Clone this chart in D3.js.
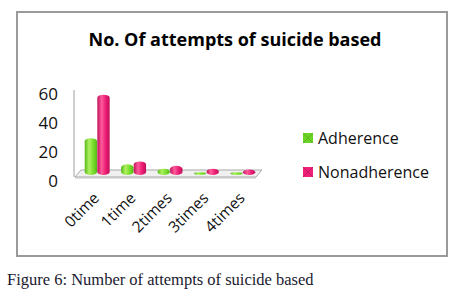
<!DOCTYPE html>
<html>
<head>
<meta charset="utf-8" />
<title>No. Of attempts of suicide based</title>
<script src="https://cdn.jsdelivr.net/npm/d3@7"></script>
<style>
  body { margin: 0; background: #fff; }
  svg { display: block; }
  .tick text { font-family: "Open Sans", "DejaVu Sans", sans-serif; }
</style>
</head>
<body>
<div id="chart"></div>
<script>
const categories = ["0time", "1time", "2times", "3times", "4times"];
const seriesNames = ["Adherence", "Nonadherence"];
const adherence = [24, 6, 3, 0.6, 0.6];
const nonadherence = [54, 8, 5, 3, 2.5];
const yTicks = [0, 20, 40, 60];

const W = 457, H = 303;
const svg = d3.select("#chart").append("svg")
  .attr("width", W).attr("height", H);

const defs = svg.append("defs");
function cyl(id, dark, mid, light) {
  const g = defs.append("linearGradient").attr("id", id)
    .attr("x1", "0%").attr("x2", "100%").attr("y1", "0%").attr("y2", "0%");
  g.append("stop").attr("offset", "0%").attr("stop-color", dark);
  g.append("stop").attr("offset", "35%").attr("stop-color", light);
  g.append("stop").attr("offset", "70%").attr("stop-color", mid);
  g.append("stop").attr("offset", "100%").attr("stop-color", dark);
}
cyl("gGreen", "#55b818", "#77dd2a", "#aef060");
cyl("gPink", "#c0105a", "#ea1a72", "#ff5c9c");
const colors = ["url(#gGreen)", "url(#gPink)"];
const legendColors = ["#6cd424", "#ee2078"];

// frame
svg.append("rect").attr("x", 17).attr("y", 12).attr("width", 430).attr("height", 244)
  .attr("fill", "none").attr("stroke", "#9a9a9a").attr("stroke-width", 2);

// title
svg.append("text").attr("x", 235).attr("y", 46).attr("text-anchor", "middle")
  .attr("font-family", "'Open Sans', sans-serif").attr("font-weight", "bold")
  .attr("font-size", 18).attr("fill", "#000")
  .text("No. Of attempts of suicide based");

const x = d3.scaleBand().domain(categories).range([79, 261]).paddingInner(0.3).paddingOuter(0.15);
const xs = d3.scaleBand().domain(seriesNames).range([0, x.bandwidth()]).padding(0.02);
const y = d3.scaleLinear().domain([0, 60]).range([175, 88]);

// floor
const fl = 75, fr = 262, fy = y(0);
svg.append("path")
  .attr("d", `M${fl},${fy + 2} L${fl + 6},${fy - 5} L${fr},${fy - 5} L${fr - 6},${fy + 2} Z`)
  .attr("fill", "#f0f0f0").attr("stroke", "#a8a8a8").attr("stroke-width", 1);
svg.append("path")
  .attr("d", `M${fl},${fy + 2} L${fr - 6},${fy + 2} L${fr - 6},${fy + 3.5} L${fl},${fy + 3.5} Z`)
  .attr("fill", "#c8c8c8");

// vertical axis line
svg.append("line").attr("x1", 74).attr("x2", 74).attr("y1", 90).attr("y2", fy + 2)
  .attr("stroke", "#a0a0a0").attr("stroke-width", 1);

// y axis labels
const yAxis = svg.append("g").attr("transform", "translate(58,6)")
  .call(d3.axisLeft(y).tickValues(yTicks).tickSize(0).tickPadding(0));
yAxis.select(".domain").remove();
yAxis.selectAll("text").attr("font-size", 17).attr("fill", "#111");

// bars
const data = categories.map((c, i) => ({ c, vals: [adherence[i], nonadherence[i]] }));
const groups = svg.append("g").selectAll("g").data(data).join("g")
  .attr("transform", d => `translate(${x(d.c)},0)`);
groups.selectAll("rect")
  .data(d => d.vals.map((v, k) => ({ s: seriesNames[k], v, k })))
  .join("rect")
  .attr("x", d => xs(d.s))
  .attr("width", xs.bandwidth())
  .attr("y", d => y(d.v) - 2)
  .attr("height", d => Math.max(y(0) - y(d.v) + 2, 2))
  .attr("rx", xs.bandwidth() / 2).attr("ry", 3)
  .attr("fill", d => colors[d.k]);

// x labels
svg.append("g").selectAll("text").data(categories).join("text")
  .attr("transform", d => `translate(${x(d) + x.bandwidth() / 2 + 3},${fy + 24}) rotate(-45)`)
  .attr("text-anchor", "end")
  .attr("font-family", "'Open Sans', sans-serif").attr("font-size", 15.5).attr("fill", "#111")
  .text(d => d);

// legend
const lg = svg.append("g").selectAll("g").data(seriesNames).join("g")
  .attr("transform", (d, i) => `translate(303,${133 + i * 34})`);
lg.append("rect").attr("width", 10).attr("height", 10).attr("fill", (d, i) => legendColors[i]);
lg.append("path").attr("d", "M0,0 L5,5 L10,0 M0,10 L5,5 L10,10")
  .attr("stroke", "rgba(0,0,0,0.15)").attr("fill", "none");
lg.append("text").attr("x", 15).attr("y", 10.5)
  .attr("font-family", "'Open Sans', sans-serif").attr("font-size", 16).attr("fill", "#111")
  .text(d => d);

// caption
svg.append("text").attr("x", 7).attr("y", 285)
  .attr("font-family", "'Liberation Serif', serif").attr("font-size", 16.5).attr("fill", "#1a1a2e")
  .text("Figure 6: Number of attempts of suicide based");
</script>
</body>
</html>
